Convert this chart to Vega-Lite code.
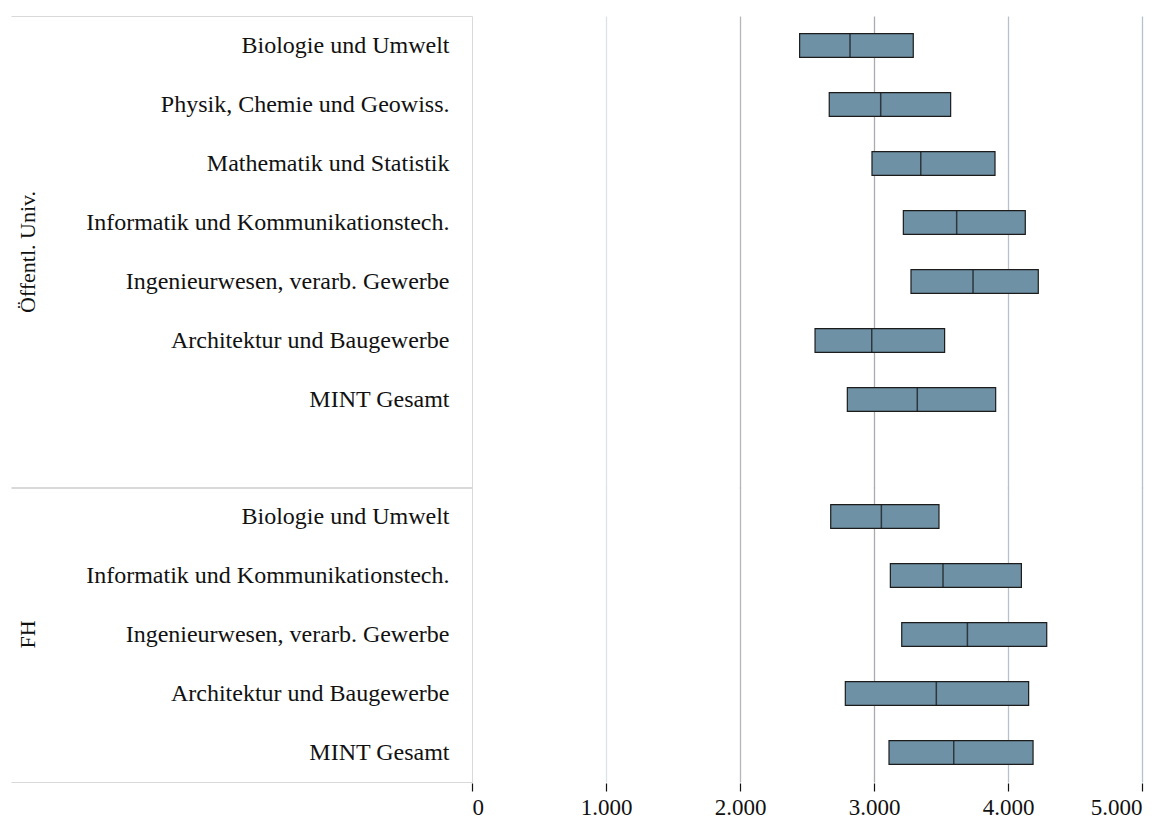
{
  "$schema": "https://vega.github.io/schema/vega-lite/v6.json",
  "padding": {"left": 10, "top": 15, "right": 5, "bottom": 0},
  "background": "white",
  "data": {
    "values": [
      {"Nr": 1, "Gruppe": "Öffentl. Univ.", "Fach": "Biologie und Umwelt", "Q1": 2445, "Median": 2821, "Q3": 3293},
      {"Nr": 2, "Gruppe": "Öffentl. Univ.", "Fach": "Physik, Chemie und Geowiss.", "Q1": 2666, "Median": 3050, "Q3": 3572},
      {"Nr": 3, "Gruppe": "Öffentl. Univ.", "Fach": "Mathematik und Statistik", "Q1": 2985, "Median": 3349, "Q3": 3903},
      {"Nr": 4, "Gruppe": "Öffentl. Univ.", "Fach": "Informatik und Kommunikationstech.", "Q1": 3219, "Median": 3617, "Q3": 4129},
      {"Nr": 5, "Gruppe": "Öffentl. Univ.", "Fach": "Ingenieurwesen, verarb. Gewerbe", "Q1": 3276, "Median": 3739, "Q3": 4226},
      {"Nr": 6, "Gruppe": "Öffentl. Univ.", "Fach": "Architektur und Baugewerbe", "Q1": 2560, "Median": 2983, "Q3": 3527},
      {"Nr": 7, "Gruppe": "Öffentl. Univ.", "Fach": "MINT Gesamt", "Q1": 2801, "Median": 3323, "Q3": 3908},
      {"Nr": 8, "Gruppe": "Öffentl. Univ.", "Fach": " ", "Q1": null, "Median": null, "Q3": null},
      {"Nr": 9, "Gruppe": "FH", "Fach": "Biologie und Umwelt", "Q1": 2677, "Median": 3055, "Q3": 3485},
      {"Nr": 10, "Gruppe": "FH", "Fach": "Informatik und Kommunikationstech.", "Q1": 3122, "Median": 3515, "Q3": 4100},
      {"Nr": 11, "Gruppe": "FH", "Fach": "Ingenieurwesen, verarb. Gewerbe", "Q1": 3207, "Median": 3697, "Q3": 4289},
      {"Nr": 12, "Gruppe": "FH", "Fach": "Architektur und Baugewerbe", "Q1": 2786, "Median": 3465, "Q3": 4154},
      {"Nr": 13, "Gruppe": "FH", "Fach": "MINT Gesamt", "Q1": 3112, "Median": 3595, "Q3": 4187}
    ]
  },
  "facet": {
    "row": {
      "field": "Gruppe", "type": "nominal", "sort": ["Öffentl. Univ.", "FH"],
      "header": {"title": null, "labelAngle": -90, "labelOrient": "left", "labelFont": "Liberation Serif", "labelFontSize": 22, "labelColor": "#111111", "labelPadding": -40}
    }
  },
  "spacing": -3,
  "resolve": {"scale": {"y": "independent"}},
  "spec": {
    "width": 670,
    "height": {"step": 59},
    "encoding": {
      "y": {
        "field": "Fach", "type": "nominal", "sort": {"field": "Nr", "op": "min"},
        "scale": {"paddingInner": 0, "paddingOuter": 0},
        "axis": {
          "title": null, "grid": false,
          "domainColor": "#d9d9d9", "domainWidth": 1,
          "ticks": true, "tickBand": "extent", "tickSize": 461, "tickWidth": 1,
          "tickColor": {"condition": {"test": "datum.index === 1 || datum.index === -1", "value": "#d9d9d9"}, "value": "transparent"},
          "labelPadding": -438, "labelLimit": 0, "labelFont": "Liberation Serif", "labelColor": "#111111",
          "labelFontSize": {"condition": {"test": "datum.index === -1 || datum.extra", "value": 0}, "value": 24}
        }
      }
    },
    "layer": [
      {"mark": {"type": "text", "text": ""}},
      {
        "mark": {"type": "bar", "height": {"band": 0.4}, "fill": "#6e91a5", "stroke": "#1c1c1c", "strokeWidth": 1.2},
        "encoding": {
          "x": {
            "field": "Q1", "type": "quantitative",
            "scale": {"domain": [0, 5000], "nice": false},
            "axis": {
              "title": null, "values": [0, 1000, 2000, 3000, 4000, 5000],
              "labelExpr": "replace(format(datum.value, ','), ',', '.')",
              "domain": false, "ticks": true, "tickSize": 8, "tickColor": "#111111", "tickWidth": 1.2,
              "labelPadding": 5, "labelFont": "Liberation Serif", "labelFontSize": 23, "labelColor": "#111111",
              "grid": true, "gridWidth": 1.3,
              "gridColor": {"condition": [{"test": "datum.value === 0", "value": "transparent"}, {"test": "datum.value === 1000", "value": "#dde2e6"}, {"test": "datum.value === 2000", "value": "#b3b7bb"}, {"test": "datum.value === 3000", "value": "#a8acb0"}], "value": "#b8c1c9"}
            }
          },
          "x2": {"field": "Q3"}
        }
      },
      {
        "mark": {"type": "tick", "size": 23, "thickness": 1.5, "color": "#111111"},
        "encoding": {
          "x": {"field": "Median", "type": "quantitative", "title": null}
        }
      }
    ]
  },
  "config": {
    "view": {"stroke": null},
    "header": {"labelAlign": "center"}
  }
}
